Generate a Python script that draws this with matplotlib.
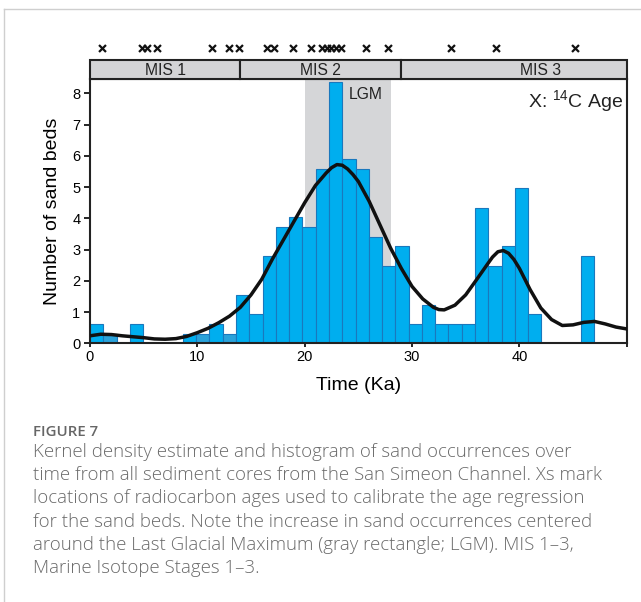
import numpy as np
import matplotlib
matplotlib.use("Agg")
import matplotlib.pyplot as plt
from matplotlib.patches import Rectangle
from matplotlib.lines import Line2D

plt.rcParams['font.family'] = ['Liberation Sans', 'DejaVu Sans']
plt.rcParams['mathtext.fontset'] = 'custom'
plt.rcParams['mathtext.rm'] = 'Liberation Sans'

# ---------------- data ----------------
bin_edges = np.linspace(0, 47, 39)          # 38 bins of ~1.24 ka
bar_heights = [0.62, 0.31, 0.0, 0.62, 0.0, 0.0, 0.0, 0.31, 0.31, 0.62,
               0.31, 1.55, 0.93, 2.79, 3.72, 4.03, 3.72, 5.58, 8.35, 5.89,
               5.58, 3.41, 2.48, 3.10, 0.62, 1.24, 0.62, 0.62, 0.62, 4.34,
               2.48, 3.10, 4.96, 0.93, 0.0, 0.0, 0.0, 2.79]
faded_bins = [1, 8, 10]   # bars drawn in a slightly duller blue

kde_x = [0, 1, 2, 3, 4, 5, 6, 7, 8, 9,
         10, 11, 12, 13, 14, 15, 16, 17, 18, 19,
         20, 21, 22, 22.5, 23, 23.5, 24, 24.5, 25, 26, 27, 28, 29,
         30, 31, 32, 32.5, 33, 34, 35, 36, 37, 37.5, 38, 38.5, 39, 39.5,
         40, 41, 42, 43, 44, 45, 46, 47, 48, 49, 50]
kde_y = [0.24, 0.29, 0.28, 0.24, 0.21, 0.18, 0.14, 0.13, 0.15, 0.22,
         0.34, 0.48, 0.66, 0.87, 1.15, 1.55, 2.05, 2.70, 3.30, 3.90,
         4.50, 5.05, 5.45, 5.62, 5.72, 5.70, 5.58, 5.40, 5.18, 4.55, 3.80, 3.05, 2.40,
         1.82, 1.42, 1.15, 1.08, 1.07, 1.22, 1.55, 2.03, 2.52, 2.76, 2.93, 2.97, 2.88, 2.68,
         2.40, 1.72, 1.13, 0.76, 0.57, 0.59, 0.67, 0.70, 0.62, 0.52, 0.46]

c14_ages = [1.1, 4.85, 5.3, 6.2, 11.35, 12.95, 13.9, 16.45, 17.15, 18.9,
            20.6, 21.6, 22.05, 22.45, 22.9, 23.4, 25.7, 27.75, 33.65, 37.85, 45.2]

mis_names = ["MIS 1", "MIS 2", "MIS 3"]
mis_start = [0, 14, 29]
mis_end = [14, 29, 50]
mis_label_x = [7, 21.5, 42]

lgm_start, lgm_end = 20, 28

xticks = [0, 10, 20, 30, 40, 50]
xtick_labels = ["0", "10", "20", "30", "40", ""]
yticks = list(range(0, 9))

caption_title = "FIGURE 7"
caption_lines = [
    "Kernel density estimate and histogram of sand occurrences over",
    "time from all sediment cores from the San Simeon Channel. Xs mark",
    "locations of radiocarbon ages used to calibrate the age regression",
    "for the sand beds. Note the increase in sand occurrences centered",
    "around the Last Glacial Maximum (gray rectangle; LGM). MIS 1\u20133,",
    "Marine Isotope Stages 1\u20133.",
]

# ---------------- figure ----------------
W, H = 641, 602
fig = plt.figure(figsize=(W / 100, H / 100), dpi=100)

def fx(px):
    return px / W

def fy(py):
    return 1 - py / H

ax_l, ax_r, ax_b, ax_t = 90, 626.7, 343.3, 79.3
ax = fig.add_axes([fx(ax_l), fy(ax_b), fx(ax_r - ax_l), (ax_b - ax_t) / H])
ax.set_xlim(0, 50)
ax.set_ylim(0, 8.45)

ax.axvspan(lgm_start, lgm_end, color='#d5d6d8', zorder=0, lw=0)

widths = np.diff(bin_edges)
colors = ['#2aa2da' if i in faded_bins else '#00aeef' for i in range(len(bar_heights))]
ax.bar(bin_edges[:-1], bar_heights, width=widths, align='edge',
       color=colors, edgecolor='#1a78bd', linewidth=0.8, zorder=2)

ax.plot(kde_x, kde_y, color='#111111', lw=2.5, zorder=3, solid_joinstyle='round')

for s in ax.spines.values():
    s.set_linewidth(1.5)
    s.set_color('#222222')

ax.set_xticks(xticks)
ax.set_xticklabels(xtick_labels)
ax.set_yticks(yticks)
ax.tick_params(axis='x', direction='inout', length=6, width=1.2, labelsize=10.5, pad=2)
ax.tick_params(axis='y', direction='out', length=4, width=1.2, labelsize=10.5, pad=3)

ax.set_xlabel("Time (Ka)", fontsize=14, labelpad=9)
ax.set_ylabel("Number of sand beds", fontsize=14, labelpad=8)

ax.text(24.1, 7.97, "LGM", fontsize=11.3, va='center', ha='left', color='#222222', zorder=4)
ax.text(49.7, 7.75, r"X: $\mathregular{^{14}}$C Age", fontsize=14, va='center', ha='right',
        color='#222222', zorder=4)

# MIS box
mis_ax = fig.add_axes([fx(ax_l), fy(ax_t), fx(ax_r - ax_l), (ax_t - 60) / H])
mis_ax.set_xlim(0, 50)
mis_ax.set_ylim(0, 1)
mis_ax.axis('off')
for name, s0, s1, lx in zip(mis_names, mis_start, mis_end, mis_label_x):
    mis_ax.add_patch(Rectangle((s0, 0), s1 - s0, 1, facecolor='#d4d4d6',
                               edgecolor='#222222', lw=1.5, clip_on=False))
    mis_ax.text(lx, 0.45, name, ha='center', va='center', fontsize=11.3, color='#222222')

# radiocarbon age marks
mark_ax = fig.add_axes([fx(ax_l), fy(56), fx(ax_r - ax_l), 16 / H])
mark_ax.set_xlim(0, 50)
mark_ax.set_ylim(0, 1)
mark_ax.axis('off')
mark_ax.scatter(c14_ages, [0.5] * len(c14_ages), marker='x', s=25, linewidths=1.6,
                color='#111111', clip_on=False)

# panel border (left and top)
fig.add_artist(Line2D([fx(4), fx(4)], [fy(9), 0], color='#cfcfcf', lw=1))
fig.add_artist(Line2D([fx(4), 1], [fy(9), fy(9)], color='#cfcfcf', lw=1))

# caption
fig.text(fx(33), fy(432), caption_title, fontsize=10.8, color='#666666',
         family=['Open Sans', 'DejaVu Sans'], fontweight='semibold', va='center', ha='left')
for i, line in enumerate(caption_lines):
    fig.text(fx(33), fy(452 + 23.2 * i), line, fontsize=13.4, color='#6a6a6a',
             family=['Open Sans', 'DejaVu Sans'], fontweight='light', va='center', ha='left')

fig.savefig("out.png", dpi=100)
